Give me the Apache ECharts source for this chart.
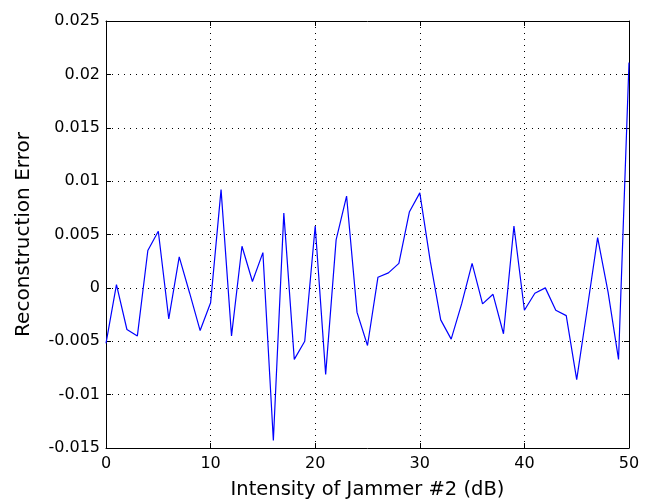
<!DOCTYPE html>
<html>
<head>
<meta charset="utf-8">
<script src="https://cdn.jsdelivr.net/npm/echarts@6/dist/echarts.min.js"></script>
<style>html,body{margin:0;padding:0;background:#fff}#c{width:653px;height:502px}</style>
</head>
<body>
<div id="c"></div>
<script>
const xValues = [0,1,2,3,4,5,6,7,8,9,10,11,12,13,14,15,16,17,18,19,20,21,22,23,24,25,26,27,28,29,30,31,32,33,34,35,36,37,38,39,40,41,42,43,44,45,46,47,48,49,50];
const errorValues = [-0.0052,0.0003,-0.0039,-0.0045,0.0035,0.0053,-0.0029,0.0029,-0.0005,-0.0040,-0.0014,0.0092,-0.0045,0.0039,0.0006,0.0033,-0.0143,0.0070,-0.0067,-0.0050,0.0058,-0.0081,0.0045,0.0086,-0.0023,-0.0054,0.0010,0.0014,0.0023,0.0071,0.0089,0.0025,-0.0030,-0.0048,-0.0015,0.0023,-0.0015,-0.0006,-0.0043,0.0058,-0.0021,-0.0005,0.0000,-0.0021,-0.0026,-0.0086,-0.0020,0.0047,-0.0004,-0.0067,0.0211];
const xTicks = [0,10,20,30,40,50];
const yTicks = [-0.015,-0.01,-0.005,0,0.005,0.01,0.015,0.02,0.025];

const font = 'DejaVu Sans';
const chart = echarts.init(document.getElementById('c'), null, {renderer:'canvas'});
const fmtY = v => String(parseFloat((Math.round(v*1000)/1000).toFixed(3)));
const gridLine = {show:true, lineStyle:{color:'#000', type:[1,5], width:1}};
const boxLine = {show:true, onZero:false, lineStyle:{color:'#000', width:1}};
const tick = {show:true, inside:true, length:5, lineStyle:{color:'#000'}};
chart.setOption({
  backgroundColor:'#fff',
  animation:false,
  grid:{left:106, right:24, top:21, bottom:54, show:false, outerBoundsMode:'none', containLabel:false},
  xAxis:[{
    type:'value', min:xTicks[0], max:xTicks[xTicks.length-1], interval:10, position:'bottom',
    name:'Intensity of Jammer #2 (dB)', nameLocation:'middle', nameGap:32,
    nameTextStyle:{fontFamily:font, fontSize:19.5, color:'#000'},
    axisLine:boxLine, axisTick:tick,
    axisLabel:{fontFamily:font, fontSize:16, color:'#000', margin:8},
    splitLine:gridLine
  },{
    type:'value', min:xTicks[0], max:xTicks[xTicks.length-1], interval:10, position:'top',
    axisLine:boxLine, axisTick:tick,
    axisLabel:{show:false}, splitLine:{show:false}
  }],
  yAxis:[{
    type:'value', min:yTicks[0], max:yTicks[yTicks.length-1], interval:0.005, position:'left',
    name:'Reconstruction Error', nameLocation:'middle', nameGap:72, nameRotate:90,
    nameTextStyle:{fontFamily:font, fontSize:20, color:'#000'},
    axisLine:boxLine, axisTick:tick,
    axisLabel:{fontFamily:font, fontSize:16, color:'#000', margin:6, formatter:fmtY},
    splitLine:gridLine
  },{
    type:'value', min:yTicks[0], max:yTicks[yTicks.length-1], interval:0.005, position:'right',
    axisLine:boxLine, axisTick:tick,
    axisLabel:{show:false}, splitLine:{show:false}
  }],
  series:[{
    type:'line', xAxisIndex:0, yAxisIndex:0,
    data:xValues.map((x,i)=>[x,errorValues[i]]),
    showSymbol:false, symbol:'none',
    lineStyle:{color:'#0000ff', width:1.2},
    clip:true
  }]
});
</script>
</body>
</html>
